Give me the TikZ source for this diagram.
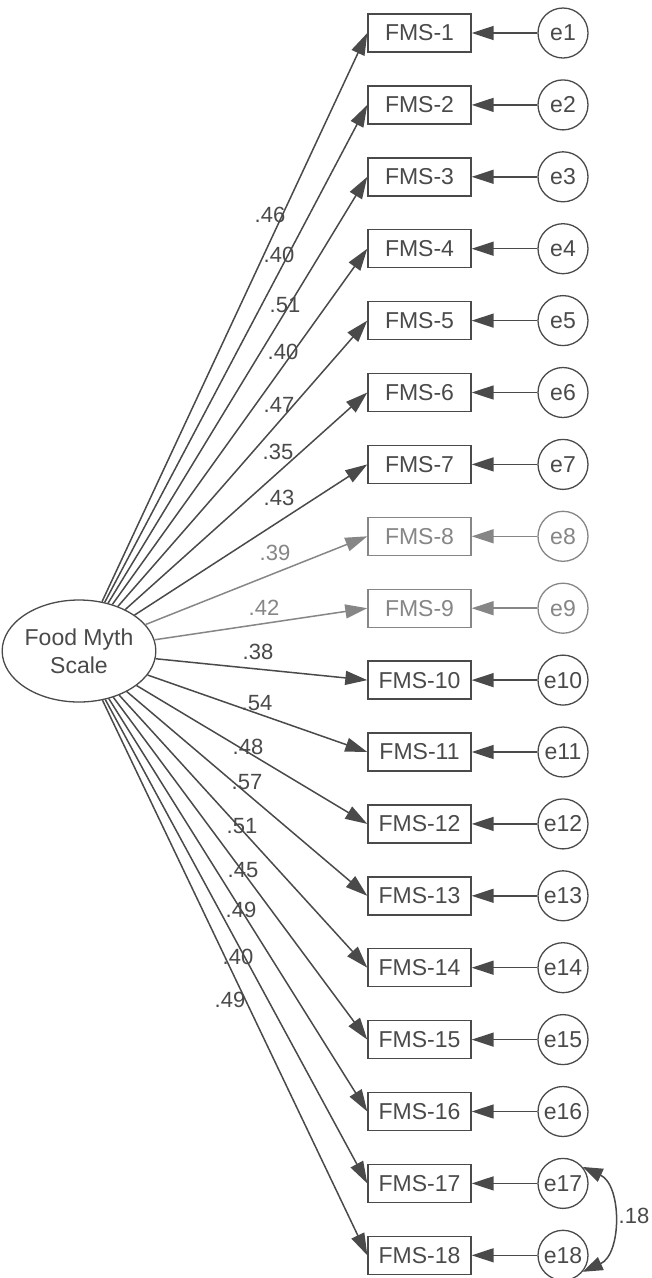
\documentclass[tikz,border=0pt]{standalone}
\usepackage{fontspec}
\setmainfont{Liberation Sans}
\usetikzlibrary{shapes.geometric,arrows.meta}
\definecolor{ln}{HTML}{4A4A4A}
\definecolor{lt}{HTML}{868686}
\begin{document}
\begin{tikzpicture}[x=1pt,y=-1pt,
  obs/.style={draw=#1,text=#1,line width=1.4pt,minimum width=103pt,minimum height=38pt,inner sep=0pt,font=\fontsize{23}{27}\selectfont},
  err/.style={draw=#1,text=#1,circle,line width=1.3pt,minimum size=50pt,inner sep=0pt,font=\fontsize{23}{27}\selectfont},
  ld/.style={draw=#1,line width=1.5pt,-{Triangle[length=22pt,width=14pt]}},
  coef/.style={text=#1,inner sep=0pt,font=\fontsize{22}{26}\selectfont},
  lat/.style={draw=ln,text=ln,ellipse,line width=1.3pt,minimum width=142pt,minimum height=102pt,inner sep=0pt,align=center,font=\fontsize{23}{28}\selectfont}]
\useasboundingbox[fill=white] (0,0) rectangle (652,1278);
\node[lat] (ell) at (79,651) {Food Myth\\Scale};
\foreach \i/\v/\lx/\ly/\c in {1/.46/270/215/ln, 2/.40/279/255/ln, 3/.51/285/305/ln, 4/.40/283/352/ln, 5/.47/279/405/ln, 6/.35/278/452/ln, 7/.43/279/498/ln, 8/.39/275/553/lt, 9/.42/264/608/lt, 10/.38/258/652/ln, 11/.54/257/703/ln, 12/.48/248/747/ln, 13/.57/247/782/ln, 14/.51/242/826/ln, 15/.45/243/870/ln, 16/.49/241/910/ln, 17/.40/238/957/ln, 18/.49/230/1000/ln}{
  \pgfmathsetmacro{\yy}{33+(\i-1)*71.9}
  \node[obs=\c] (b\i) at (419.5,\yy) {FMS-\i};
  \node[err=\c] (e\i) at (563,\yy) {e\i};
  \draw[ld=\c] (e\i) -- (b\i);
  \draw[ld=\c] (ell) -- (b\i.west);
  \node[coef=\c] (l\i) at (\lx,\ly) {\v};
}
\draw[line width=1.5pt,draw=ln,{Triangle[length=20pt,width=14pt]}-{Triangle[length=20pt,width=14pt]}] (e17.40) .. controls (622,1185) and (622,1254) .. (e18.-40);
\node[coef=ln] (c1718) at (634,1216) {.18};
\end{tikzpicture}
\end{document}
